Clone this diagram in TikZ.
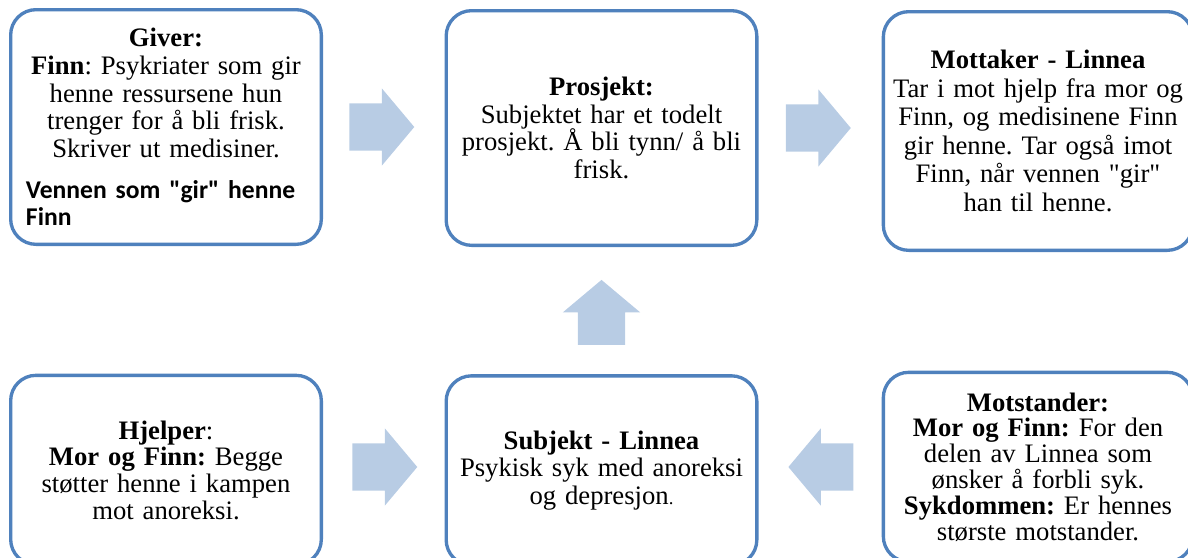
\documentclass[tikz,border=0pt]{standalone}
\usepackage{fontspec}
\setmainfont{Liberation Serif}[Ligatures=TeXOff]
\newfontfamily\calfont{Carlito}
\usepackage{tikz}
\usetikzlibrary{shapes.arrows,calc}
\definecolor{kantblaa}{RGB}{79,129,189}
\definecolor{pilblaa}{RGB}{184,204,228}
\frenchspacing
\tikzset{
  boks/.style={draw=kantblaa, line width=2.5pt, rounded corners=19pt, fill=white,
    align=center, inner sep=4pt, text width=220pt, minimum width=233pt,
    font=\fontsize{20}{20.8}\selectfont},
  pil/.style={single arrow, fill=pilblaa, draw=none, inner sep=0pt, anchor=tail,
    text height=17.6pt, text depth=17.6pt, minimum height=48.75pt,
    single arrow head extend=11.25pt, single arrow tip angle=100}
}

\begin{document}
\begin{tikzpicture}[x=0.75pt,y=-0.75pt]
			\useasboundingbox (0,0) rectangle (1188,557);
			\clip (0,0) rectangle (1188,557);
			% top row
			\node[boks, minimum height=176pt, text width=210pt, align=left] (giver) at (166,127)
				{\centering\textbf{Giver:}\\\textbf{Finn}: Psykriater som gir\\henne ressursene hun\\trenger for å bli frisk.\\Skriver ut medisiner.\par
				\vspace{10pt}\raggedright{\calfont\bfseries\fontsize{19.2}{20.5}\selectfont Vennen som "gir" henne\\Finn\par}};
			\node[boks, minimum height=176pt] (prosjekt) at (601.5,128)
				{\textbf{Prosjekt:}\\Subjektet har et todelt\\prosjekt. Å bli tynn/ å bli\\frisk.};
			\node[boks, minimum width=232pt, minimum height=179pt, font=\fontsize{20}{21.4}\selectfont] (mottaker) at (1038,131)
				{\textbf{Mottaker - Linnea}\\Tar i mot hjelp fra mor og\\Finn, og medisinene Finn\\gir henne. Tar også imot\\Finn, når vennen "gir"\\han til henne.};
			% bottom row
			\node[boks, minimum height=142pt, font=\fontsize{20}{20}\selectfont] (hjelper) at (166,470)
				{\textbf{Hjelper}:\\\textbf{Mor og Finn:} Begge\\støtter henne i kampen\\mot anoreksi.};
			\node[boks, minimum height=142pt] (subjekt) at (601.5,470.5)
				{\textbf{Subjekt - Linnea}\\Psykisk syk med anoreksi\\og depresjon{\fontsize{14}{14}\selectfont.}};
			\node[boks, minimum width=232pt, minimum height=142pt, font=\fontsize{20}{19.4}\selectfont] (motstander) at (1038,467)
				{\textbf{Motstander:}\\\textbf{Mor og Finn:} For den\\delen av Linnea som\\ønsker å forbli syk.\\\textbf{Sykdommen:} Er hennes\\største motstander.};
			% arrows
			\node[pil] (p1) at ($(giver.east)+(26,0)$) {};
			\node[pil] (p2) at ($(prosjekt.east)+(27,0)$) {};
			\node[pil] (p3) at ($(hjelper.east)+(29,-3)$) {};
			\node[pil, rotate=180] (p4) at ($(motstander.west)+(-28,0)$) {};
			\node[pil, rotate=90] (p5) at ($(subjekt.north)+(0,-29)$) {};
		\end{tikzpicture}
\end{document}
